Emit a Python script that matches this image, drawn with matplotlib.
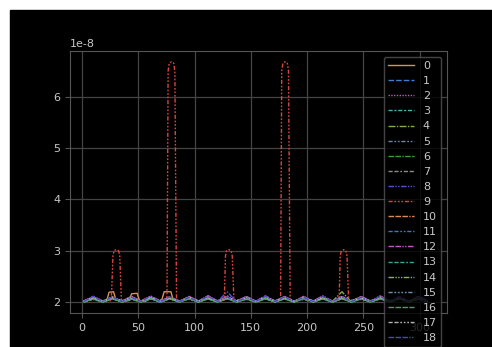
import numpy as np
import matplotlib
matplotlib.use("Agg")
import matplotlib.pyplot as plt
from matplotlib.patches import Rectangle

plt.rcParams['axes.unicode_minus'] = False

# values are in units of 1e-8
labels = [str(i) for i in range(19)]

# common x positions for the small periodic humps
x_grid = 1.5 + 8.5 * np.arange(37)

# series 0 (orange) has a few flat-topped bumps
x0 = [2, 10, 19, 22, 24, 28, 30, 36, 42, 44, 49, 51, 56, 61, 68, 71, 73, 79, 81, 87,
      95, 104, 112, 121, 129, 138, 146, 155, 163, 172, 180, 189, 197, 206, 214, 223,
      231, 240, 248, 257, 265, 274, 282, 291, 299, 307]
y0 = [2.01, 2.07, 2.01, 2.03, 2.19, 2.20, 2.05, 2.01, 2.03, 2.16, 2.17, 2.03, 2.01, 2.07,
      2.02, 2.05, 2.20, 2.20, 2.04, 2.01, 2.08, 2.01, 2.07, 2.01, 2.10, 2.01, 2.07, 2.01,
      2.08, 2.01, 2.07, 2.01, 2.08, 2.01, 2.07, 2.01, 2.09, 2.01, 2.07, 2.01, 2.08, 2.01,
      2.07, 2.01, 2.08, 2.01]

# series 9 (red) with the tall spikes
x9 = [2, 10, 19, 26, 27.5, 28.5, 30.5, 32.5, 33.5, 35, 44, 53, 61, 70, 75.5, 76.5, 77.5,
      79.5, 81.5, 82.5, 84, 86.5, 95, 104, 112, 121, 126.5, 127.5, 128.5, 130.5, 132.5,
      133.5, 135, 146, 155, 163, 172, 176.5, 177.5, 178.5, 180.5, 182.5, 183.5, 185, 189,
      197, 206, 214, 223, 228.5, 229.5, 230.5, 232.5, 234.5, 235.5, 237, 248, 257, 265,
      274, 282, 291, 299, 307]
y9 = [2.01, 2.06, 2.01, 2.03, 2.9, 3.0, 3.02, 3.0, 2.9, 2.03, 2.07, 2.01, 2.07, 2.01,
      2.05, 6.5, 6.65, 6.68, 6.65, 6.5, 2.05, 2.01, 2.07, 2.01, 2.07, 2.01, 2.04, 2.9,
      3.0, 3.02, 3.0, 2.9, 2.03, 2.07, 2.01, 2.07, 2.01, 2.05, 6.5, 6.65, 6.68, 6.65,
      6.5, 2.05, 2.01, 2.07, 2.01, 2.07, 2.01, 2.04, 2.9, 3.0, 3.02, 3.0, 2.9, 2.03,
      2.07, 2.01, 2.07, 2.01, 2.07, 2.01, 2.07, 2.01]

s1 = [2.01,2.08,2.00,2.07,2.01,2.09,2.01,2.08,2.00,2.07,2.01,2.08,2.01,2.09,2.00,2.10,2.01,2.08,2.01,2.07,2.00,2.09,2.01,2.08,2.01,2.07,2.00,2.09,2.01,2.08,2.01,2.07,2.00,2.08,2.01,2.09,2.01]
s2 = [2.02,2.10,2.01,2.09,2.02,2.11,2.01,2.10,2.02,2.09,2.01,2.10,2.02,2.11,2.01,2.12,2.02,2.09,2.01,2.10,2.02,2.11,2.01,2.09,2.02,2.10,2.01,2.11,2.02,2.10,2.01,2.09,2.02,2.10,2.01,2.11,2.02]
s3 = [2.00,2.06,2.01,2.07,2.00,2.06,2.01,2.08,2.00,2.07,2.01,2.06,2.00,2.08,2.01,2.07,2.00,2.06,2.01,2.08,2.00,2.07,2.01,2.06,2.00,2.08,2.01,2.07,2.00,2.06,2.01,2.08,2.00,2.07,2.01,2.06,2.00]
s4 = [2.01,2.07,2.01,2.08,2.00,2.07,2.01,2.09,2.01,2.08,2.00,2.07,2.01,2.12,2.01,2.08,2.00,2.07,2.01,2.09,2.01,2.08,2.00,2.07,2.01,2.08,2.01,2.20,2.00,2.07,2.01,2.08,2.01,2.09,2.00,2.07,2.01]
s5 = [2.00,2.05,2.00,2.06,2.01,2.05,2.00,2.07,2.00,2.06,2.01,2.05,2.00,2.07,2.00,2.06,2.01,2.05,2.00,2.07,2.00,2.06,2.01,2.05,2.00,2.07,2.00,2.06,2.01,2.05,2.00,2.07,2.00,2.06,2.01,2.05,2.00]
s6 = [2.01,2.06,2.00,2.07,2.01,2.08,2.00,2.06,2.01,2.07,2.00,2.08,2.01,2.06,2.00,2.07,2.01,2.08,2.00,2.06,2.01,2.07,2.00,2.08,2.01,2.06,2.00,2.07,2.01,2.08,2.00,2.06,2.01,2.07,2.00,2.08,2.01]
s7 = [2.02,2.09,2.01,2.08,2.02,2.10,2.01,2.09,2.02,2.08,2.01,2.10,2.02,2.09,2.01,2.08,2.02,2.10,2.01,2.09,2.02,2.08,2.01,2.10,2.02,2.09,2.01,2.08,2.02,2.10,2.01,2.09,2.02,2.08,2.01,2.10,2.02]
s8 = [2.01,2.08,2.01,2.09,2.00,2.08,2.01,2.10,2.01,2.09,2.00,2.08,2.01,2.10,2.01,2.20,2.00,2.08,2.01,2.09,2.01,2.10,2.00,2.08,2.01,2.09,2.01,2.10,2.00,2.08,2.01,2.09,2.01,2.10,2.00,2.08,2.01]
s10 = [2.01,2.09,2.02,2.10,2.01,2.08,2.02,2.09,2.01,2.10,2.02,2.08,2.01,2.09,2.02,2.10,2.01,2.08,2.02,2.09,2.01,2.10,2.02,2.08,2.01,2.09,2.02,2.10,2.01,2.08,2.02,2.09,2.01,2.10,2.02,2.08,2.01]
s11 = [2.00,2.07,2.01,2.08,2.00,2.09,2.01,2.07,2.00,2.08,2.01,2.09,2.00,2.07,2.01,2.08,2.00,2.09,2.01,2.07,2.00,2.08,2.01,2.09,2.00,2.07,2.01,2.08,2.00,2.09,2.01,2.07,2.00,2.08,2.01,2.09,2.00]
s12 = [2.02,2.11,2.02,2.10,2.01,2.11,2.02,2.12,2.02,2.10,2.01,2.11,2.02,2.12,2.02,2.10,2.01,2.11,2.02,2.12,2.02,2.10,2.01,2.11,2.02,2.12,2.02,2.10,2.01,2.11,2.02,2.12,2.02,2.10,2.01,2.11,2.02]
s13 = [2.01,2.06,2.01,2.07,2.01,2.08,2.01,2.06,2.01,2.07,2.01,2.08,2.01,2.06,2.01,2.07,2.01,2.08,2.01,2.06,2.01,2.07,2.01,2.08,2.01,2.06,2.01,2.07,2.01,2.08,2.01,2.06,2.01,2.07,2.01,2.08,2.01]
s14 = [2.00,2.08,2.01,2.07,2.00,2.09,2.01,2.08,2.00,2.07,2.01,2.09,2.00,2.08,2.01,2.07,2.00,2.09,2.01,2.08,2.00,2.07,2.01,2.09,2.00,2.08,2.01,2.07,2.00,2.09,2.01,2.08,2.00,2.07,2.01,2.09,2.00]
s15 = [2.01,2.10,2.00,2.09,2.01,2.08,2.00,2.10,2.01,2.09,2.00,2.08,2.01,2.10,2.00,2.09,2.01,2.08,2.00,2.10,2.01,2.09,2.00,2.08,2.01,2.10,2.00,2.09,2.01,2.08,2.00,2.10,2.01,2.09,2.00,2.08,2.01]
s16 = [2.00,2.06,2.00,2.07,2.00,2.06,2.00,2.07,2.00,2.06,2.00,2.07,2.00,2.06,2.00,2.07,2.00,2.06,2.00,2.07,2.00,2.06,2.00,2.07,2.00,2.06,2.00,2.07,2.00,2.06,2.00,2.07,2.00,2.06,2.00,2.07,2.00]
s17 = [2.02,2.08,2.01,2.09,2.02,2.08,2.01,2.09,2.02,2.08,2.01,2.09,2.02,2.08,2.01,2.09,2.02,2.08,2.01,2.09,2.02,2.08,2.01,2.09,2.02,2.08,2.01,2.09,2.02,2.08,2.01,2.09,2.02,2.08,2.01,2.09,2.02]
s18 = [2.01,2.11,2.01,2.10,2.01,2.09,2.01,2.11,2.01,2.10,2.01,2.09,2.01,2.11,2.01,2.10,2.01,2.09,2.01,2.11,2.01,2.10,2.01,2.09,2.01,2.11,2.01,2.10,2.01,2.09,2.01,2.11,2.01,2.10,2.01,2.09,2.01]

colors = ['#d4935a', '#3d7fd6', '#b35db8', '#3fb5b5', '#7fae4a', '#6a86a8', '#3c9e3c',
          '#8c8c8c', '#5b4fd6', '#d9453f', '#e08a55', '#3a78c9', '#c45bbf', '#35a8a0',
          '#8db848', '#7090b0', '#46a846', '#b0b0b0', '#4a46c8']

dashes = [(), (4, 1.5), (1, 1), (3, 1.25, 1.5, 1.25), (5, 1, 1, 1),
          (3, 1.25, 1.25, 1.25, 1.25, 1.25), (4, 1, 4, 1, 1, 1),
          (3, 1.25, 3, 1.25, 1.25, 1.25), (4, 1, 1, 1, 1, 1),
          (3, 1.25, 1.25, 1.25, 1.25, 1.25, 1.25, 1.25), (4, 1, 4, 1, 4, 1, 1, 1),
          (3, 1.25, 3, 1.25, 1.25, 1.25, 1.25, 1.25), (4, 1, 4, 1, 1, 1, 1, 1),
          (3, 1.25, 3, 1.25, 3, 1.25, 1.25, 1.25), (4, 1, 1, 1, 1, 1, 1, 1),
          (3, 1.25, 1.25, 1.25, 1.25, 1.25, 1.25, 1.25, 1.25, 1.25),
          (4, 1, 4, 1, 4, 1, 4, 1, 1, 1),
          (3, 1.25, 3, 1.25, 1.25, 1.25, 1.25, 1.25, 1.25, 1.25),
          (4, 1, 4, 1, 4, 1, 1, 1, 1, 1)]

series = {0: (x0, y0), 9: (x9, y9)}
grid_series = [s1, s2, s3, s4, s5, s6, s7, s8, None, s10, s11, s12, s13, s14, s15, s16, s17, s18]
for i, s in enumerate(grid_series, start=1):
    if s is not None:
        series[i] = (x_grid, s)

W, H = 492, 347
fig = plt.figure(figsize=(W / 100, H / 100), dpi=100)
fig.patch.set_facecolor('white')
fig.add_artist(Rectangle((10 / W, 0), (W - 10) / W, (H - 10) / H,
                         transform=fig.transFigure, color='black', zorder=-10))

ax = fig.add_axes([70 / W, (H - 313) / H, (447 - 70) / W, (313 - 51) / H])
ax.set_facecolor('black')

for i in range(19):
    xs, ys = series[i]
    line, = ax.plot(xs, np.array(ys) * 1e-8, color=colors[i], lw=1.0, label=labels[i])
    if dashes[i]:
        line.set_dashes(dashes[i])

ax.set_xlim(-10.7, 324.4)
ax.set_ylim(1.786e-8, 6.89e-8)
ax.set_xticks([0, 50, 100, 150, 200, 250, 300])

ax.grid(True, color='#444444', lw=0.9)
ax.set_axisbelow(True)
for sp in ax.spines.values():
    sp.set_color('#555555')
ax.tick_params(colors='#555555', labelcolor='#c8c8c8', labelsize=8)
ax.yaxis.get_offset_text().set_color('#c8c8c8')
ax.yaxis.get_offset_text().set_fontsize(8)

leg = ax.legend(loc='upper right', fontsize=8, handlelength=2.3, labelspacing=0.46,
                facecolor='black', edgecolor='#555555', framealpha=0.8,
                labelcolor='#c8c8c8')

fig.savefig('out.png', dpi=100, facecolor=fig.get_facecolor())
